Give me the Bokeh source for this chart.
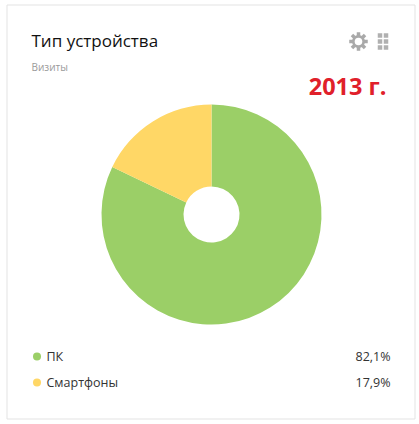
from math import pi
from bokeh.plotting import figure
from bokeh.embed import file_html
from bokeh.resources import INLINE
from bokeh.core.properties import value as fixed

categories = ["ПК", "Смартфоны"]
shares = [82.1, 17.9]
share_labels = ["82,1%", "17,9%"]
colors = ["#9bcf67", "#ffd766"]
title = "Тип устройства"
subtitle = "Визиты"
badge = "2013 г."

W, H = 419, 424
p = figure(width=W, height=H, x_range=(0, W), y_range=(H, 0), toolbar_location=None,
           output_backend="svg", min_border=0, outline_line_color=None,
           background_fill_color="white", border_fill_color="white")
p.styles = {"position": "absolute", "left": "0", "top": "0"}
p.axis.visible = False
p.grid.visible = False

# card
p.quad(left=[6.5], right=[414.5], top=[4.5], bottom=[418.5], fill_color="white",
       line_color="#e3e3e3", line_width=1)

# ring, clockwise from twelve o'clock
cx, cy, r_in, r_out = 211, 214, 28, 110
starts, ends = [], []
total = sum(shares)
acc = pi / 2
for s in shares:
    starts.append(acc)
    acc -= s / total * 2 * pi
    ends.append(acc)
p.annular_wedge(x=[cx] * 2, y=[cy] * 2, inner_radius=r_in, outer_radius=r_out,
                start_angle=starts, end_angle=ends, direction="clock",
                fill_color=colors, line_color=None)

# heading
p.text([31], [40], text=[title], text_font=fixed("Open Sans"), text_font_size="17px",
       text_color="#111111", text_baseline="middle")
p.text([31], [66], text=[subtitle], text_font=fixed("Open Sans"), text_font_size="10px",
       text_color="#9a9a9a", text_baseline="middle")
p.text([386], [85], text=[badge], text_font=fixed("Open Sans"), text_font_size="23.5px",
       text_font_style="bold", text_color="#e0202a", text_align="right", text_baseline="middle")

# gear icon
gx, gy = 358, 41
p.circle([gx], [gy], radius=6.5, fill_color="#a9a9a9", line_color=None)
p.rect([gx] * 4, [gy] * 4, width=18.5, height=3.5, angle=[0, pi / 4, pi / 2, 3 * pi / 4],
       fill_color="#a9a9a9", line_color=None)
p.circle([gx], [gy], radius=3.8, fill_color="white", line_color=None)

# grip icon
p.rect([379.5, 385.5] * 3, [35, 35, 41, 41, 47, 47], width=4.5, height=4.5,
       fill_color="#b0b0b0", line_color=None)

# legend
rows = [356, 382]
p.circle([36.5, 36.5], rows, radius=4, fill_color=colors, line_color=None)
p.text([46, 46], rows, text=categories, text_font=fixed("Open Sans"), text_font_size="12.5px",
       text_color="#333333", text_baseline="middle")
p.text([390, 390], rows, text=share_labels, text_font=fixed("Open Sans"), text_font_size="12.5px",
       text_color="#333333", text_align="right", text_baseline="middle")

open("out.html", "w").write(file_html(p, INLINE))
